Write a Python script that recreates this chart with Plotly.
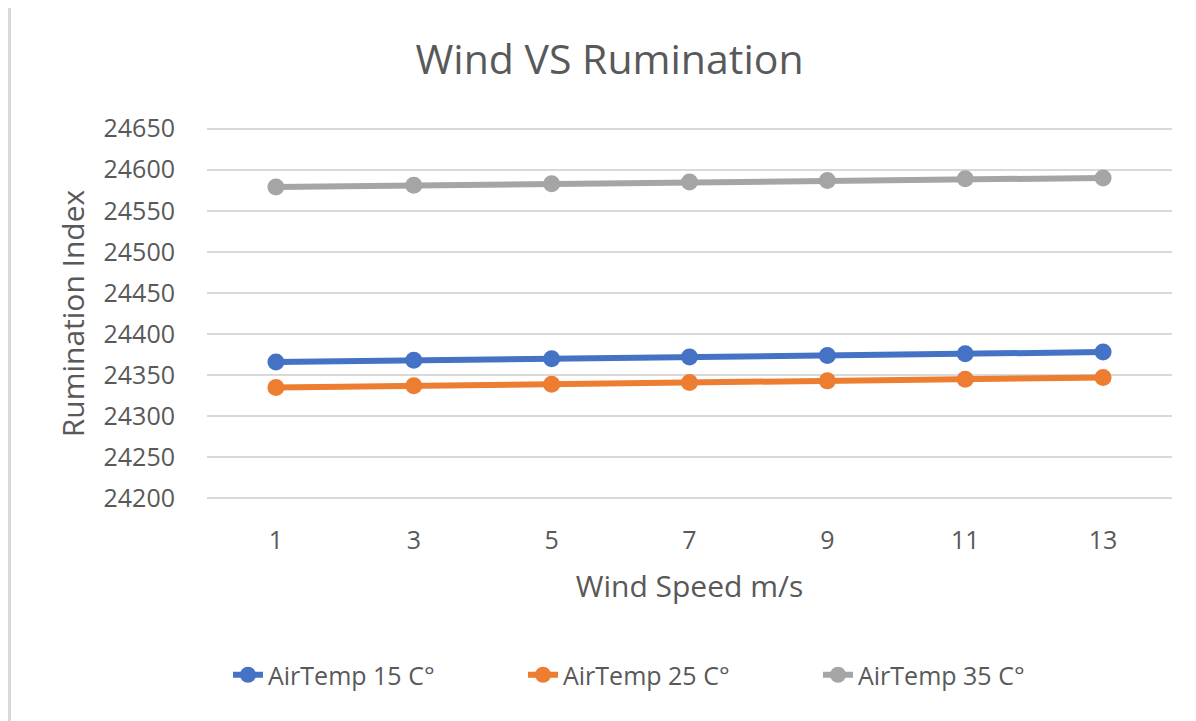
import plotly.graph_objects as go

# ── data ────────────────────────────────────────────────────────
wind_speed = ["1", "3", "5", "7", "9", "11", "13"]
temp_15 = [24366, 24368, 24370, 24372, 24374, 24376, 24378]
temp_25 = [24335, 24337, 24339, 24341, 24343, 24345, 24347]
temp_35 = [24579, 24581, 24583, 24585, 24587, 24589, 24590]
series_names = ["AirTemp 15 C°", "AirTemp 25 C°", "AirTemp 35 C°"]
y_ticks = [24200, 24250, 24300, 24350, 24400, 24450, 24500, 24550, 24600, 24650]

# ── style ───────────────────────────────────────────────────────
COLORS = ["#4472C4", "#ED7D31", "#A5A5A5"]
TEXT = "#595959"
GRID = "#D9D9D9"
FONT = "Open Sans"

OFF = 8                      # page body margin pushes the figure by 8 px
W, H = 1196 - OFF, 721 - OFF
L, R, T = 207 - OFF, 24, 127 - OFF
B = H - (500 - OFF)
PW, PH = W - L - R, H - T - B


def px_x(px):
    """screen pixel x -> paper x"""
    return (px - OFF - L) / PW


def px_y(py):
    """screen pixel y -> paper y"""
    return (H - B - (py - OFF)) / PH


fig = go.Figure()
for name, ys, col in zip(series_names, [temp_15, temp_25, temp_35], COLORS):
    fig.add_scatter(
        x=wind_speed,
        y=ys,
        mode="lines+markers",
        name=name,
        line=dict(color=col, width=6),
        marker=dict(color=col, size=17),
    )

# chart frame: grey border on the left, white chart area
fig.add_shape(type="rect", xref="paper", yref="paper", layer="below",
              x0=px_x(8), x1=px_x(1220), y0=px_y(0), y1=px_y(740),
              fillcolor="#D9D9D9", line_width=0)
fig.add_shape(type="rect", xref="paper", yref="paper", layer="below",
              x0=px_x(11), x1=px_x(1220), y0=px_y(0), y1=px_y(740),
              fillcolor="white", line_width=0)

fig.update_layout(
    width=W,
    height=H,
    margin=dict(l=L, r=R, t=T, b=B, autoexpand=False),
    paper_bgcolor="#F0F0F0",
    plot_bgcolor="rgba(0,0,0,0)",
    font=dict(family=FONT, color=TEXT, size=25),
    title=dict(text="Wind VS Rumination", xref="container",
               x=(609.5 - OFF) / W, xanchor="center",
               y=1 - (60 - OFF) / H, yanchor="middle",
               font=dict(size=41, color=TEXT)),
    xaxis=dict(
        type="category",
        range=[-0.5, 6.5],
        showgrid=False,
        zeroline=False,
        showline=False,
        ticks="outside",
        ticklen=18,
        tickcolor="rgba(0,0,0,0)",
        tickfont=dict(size=25),
        title=dict(text="Wind Speed m/s", font=dict(size=30), standoff=20),
    ),
    yaxis=dict(
        range=[24198, 24652],
        tickvals=y_ticks,
        ticktext=[str(v) for v in y_ticks],
        showgrid=True,
        gridcolor=GRID,
        gridwidth=2,
        zeroline=False,
        showline=False,
        ticks="outside",
        ticklen=26,
        tickcolor="rgba(0,0,0,0)",
        tickfont=dict(size=25),
        title=dict(text="Rumination Index", font=dict(size=30), standoff=10),
    ),
    showlegend=True,
    legend=dict(
        orientation="h",
        x=px_x(228),
        xanchor="left",
        y=px_y(675),
        yanchor="middle",
        bgcolor="rgba(0,0,0,0)",
        font=dict(size=25),
        entrywidth=250,
        entrywidthmode="pixels",
    ),
)

fig.write_html("out.html")
